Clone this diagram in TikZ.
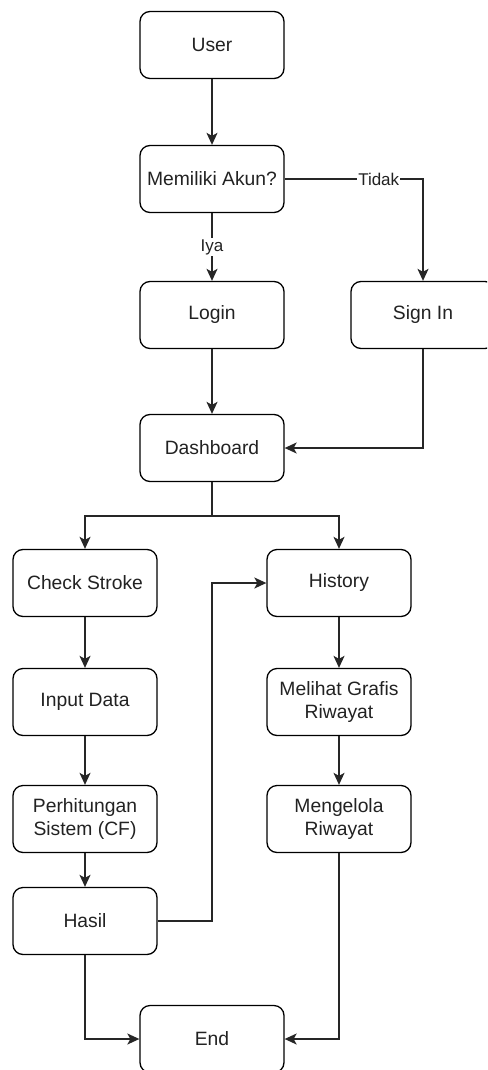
\documentclass[tikz,border=0pt]{standalone}
\usepackage{fontspec}
\setmainfont{Liberation Sans}
\usetikzlibrary{arrows.meta}
\definecolor{txt}{HTML}{222222}
\tikzset{
  box/.style={draw=black, line width=1.3pt, rounded corners=10pt, minimum width=144pt, minimum height=67pt, inner sep=0pt, align=center, text=txt, font=\fontsize{19.3}{23}\selectfont},
  conn/.style={draw=black!85, line width=1.4pt, -{Stealth[length=12pt,width=11pt,inset=3pt]}},
  plain/.style={draw=black!85, line width=1.4pt},
  lbl/.style={fill=white, inner sep=1pt, text=txt, font=\fontsize{17}{20}\selectfont}
}
\begin{document}
\begin{tikzpicture}[x=1pt,y=-1pt]
\clip (0,0) rectangle (487,1070);
\fill[white] (0,0) rectangle (487,1070);
\node[box] (user) at (212,45) {User};
\node[box] (akun) at (212,179) {Memiliki Akun?};
\node[box] (login) at (212,315) {Login};
\node[box] (sign) at (423,315) {Sign In};
\node[box] (dash) at (212,448) {Dashboard};
\node[box] (check) at (85,583) {Check Stroke};
\node[box] (hist) at (339,583) {History};
\node[box] (input) at (85,702) {Input Data};
\node[box] (hitung) at (85,819) {Perhitungan\\Sistem (CF)};
\node[box] (hasil) at (85,921) {Hasil};
\node[box] (grafis) at (339,702) {Melihat Grafis\\Riwayat};
\node[box] (kelola) at (339,819) {Mengelola\\Riwayat};
\node[box] (end) at (212,1039) {End};
\coordinate (split) at (212,516);
\draw[conn] (user) -- (akun);
\draw[conn] (akun) -- node[lbl] {Iya} (login);
\draw[conn] (akun.east) -| node[lbl, pos=0.34] {Tidak} (sign.north);
\draw[conn] (login) -- (dash);
\draw[conn] (sign.south) |- (dash.east);
\draw[plain] (dash.south) -- (split);
\draw[conn] (split) -| (check.north);
\draw[conn] (split) -| (hist.north);
\draw[conn] (check) -- (input);
\draw[conn] (input) -- (hitung);
\draw[conn] (hitung) -- (hasil);
\draw[conn] (hasil.east) -- (212,921) |- (hist.west);
\draw[conn] (hist) -- (grafis);
\draw[conn] (grafis) -- (kelola);
\draw[conn] (hasil.south) |- (end.west);
\draw[conn] (kelola.south) |- (end.east);
\end{tikzpicture}
\end{document}
